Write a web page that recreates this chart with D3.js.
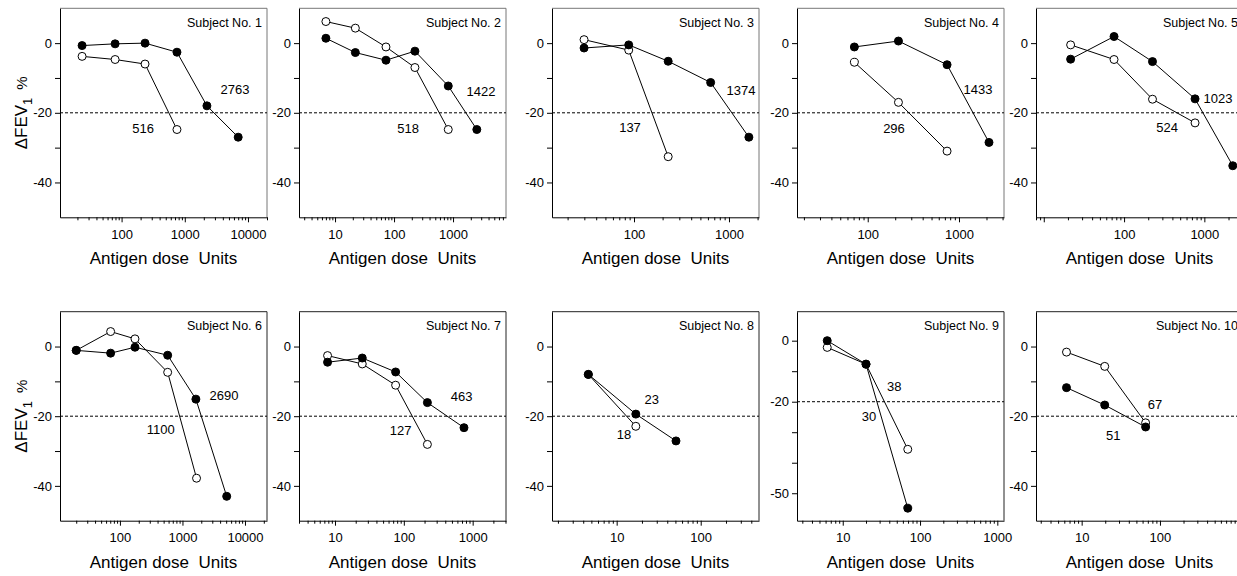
<!DOCTYPE html>
<html>
<head>
<meta charset="utf-8">
<script src="https://cdn.jsdelivr.net/npm/d3@7"></script>
<style>
  body { margin: 0; background: #fff; }
  svg { display: block; font-family: "Liberation Sans", Arial, Helvetica, sans-serif; }
</style>
</head>
<body>
<svg id="chart" width="1237" height="576"></svg>
<script>
// One panel per subject, dose on a log axis, change in FEV1 (%) on y
const subjects = [1, 2, 3, 4, 5, 6, 7, 8, 9, 10];

const xDomains = [[10.6, 20000], [2.45, 7900], [13.7, 2070], [16.8, 3110], [8, 3030],
                  [11, 22500], [3, 3050], [1.7, 494], [2.56, 1220], [2.61, 1150]];
const yDomains = [[-50, 10], [-50, 10], [-50, 10], [-50, 10], [-50, 10],
                  [-50, 10], [-50, 10], [-50, 10], [-59, 9.5], [-50, 10]];

const xTickLabels = [[100, 1000, 10000], [10, 100, 1000], [100, 1000], [100, 1000], [100, 1000],
                     [100, 1000, 10000], [10, 100, 1000], [10, 100], [10, 100, 1000], [10, 100]];
const yTicksStd = [0, -10, -20, -30, -40];
const yTicks9 = [0, -10, -20, -30, -40, -50];
const yLabelsStd = [0, -20, -40];
const yLabels9 = [0, -20, -50];

// filled circles
const filledDose = [
  [23.7, 79, 235, 752, 2240, 7000],
  [7.0, 22.1, 73, 226, 830, 2530],
  [29.8, 88, 229, 641, 1620],
  [71.4, 217, 740, 2130],
  [21.6, 75, 226, 766, 2260],
  [20, 71, 174, 580, 1640, 5100],
  [7.8, 24.9, 76, 220, 748],
  [4.6, 16.9, 50.8],
  [6.3, 20, 69.4],
  [6.4, 19.7, 65.6]];
const filledFev = [
  [-0.7, -0.2, 0, -2.6, -18, -27],
  [1.4, -2.7, -4.9, -2.3, -12.3, -24.8],
  [-1.4, -0.5, -5.2, -11.3, -27],
  [-1.1, 0.6, -6.2, -28.5],
  [-4.6, 1.9, -5.3, -16, -35.2],
  [-1.1, -1.9, -0.2, -2.5, -15.1, -43],
  [-4.5, -3.3, -7.3, -16.1, -23.3],
  [-8, -19.4, -27.1],
  [0, -7.7, -54.9],
  [-11.8, -16.8, -23.1]];

// open circles
const openDose = [
  [23.7, 79, 235, 752],
  [7.0, 22.1, 73, 226, 830],
  [29.8, 88, 229],
  [71.4, 217, 740],
  [21.6, 75, 226, 766],
  [20, 71, 174, 580, 1680],
  [7.8, 24.9, 76, 220],
  [4.6, 16.9],
  [6.3, 20, 69.4],
  [6.4, 19.7, 65.6]];
const openFev = [
  [-3.8, -4.7, -6, -24.8],
  [6.2, 4.3, -1.1, -7, -24.8],
  [1, -2, -32.6],
  [-5.5, -17, -31],
  [-0.5, -4.7, -16.1, -22.9],
  [-1.1, 4.3, 2.2, -7.4, -37.8],
  [-2.6, -5, -11.1, -28.1],
  [-8, -22.9],
  [-2.2, -7.7, -35.6],
  [-1.6, -5.7, -21.9]];

// PD20 numbers written in each panel, with their place in data units [dose, fev]
const pdUpper = ["2763", "1422", "1374", "1433", "1023", "2690", "463", "23", "38", "67"];
const pdUpperAt = [[6230, -13.2], [2985, -14.0], [1337, -13.7], [1615, -13.2], [1482, -15.8],
                   [4613, -13.9], [692, -14.4], [26.1, -15.1], [46.5, -15.1], [86.3, -16.5]];
const pdLower = ["516", "518", "137", "296", "524", "1100", "127", "18", "30", "51"];
const pdLowerAt = [[219, -24.4], [173, -24.4], [90.8, -24.1], [194, -24.4], [343, -24.1],
                   [448, -23.8], [90, -24.0], [12.2, -25.1], [21.9, -24.7], [25.3, -25.4]];

const panelLeft = [60, 299, 552, 797, 1036];
const rowTop = [8.3, 311.7];
const panelW = 207, panelH = 209;

const svg = d3.select("#chart");

subjects.forEach((s, i) => {
    const col = i % 5, row = Math.floor(i / 5);
    const x0 = panelLeft[col], y0 = rowTop[row];

    const x = d3.scaleLog().domain(xDomains[i]).range([x0, x0 + panelW]);
    const y = d3.scaleLinear().domain(yDomains[i]).range([y0 + panelH, y0]);

    const g = svg.append("g");

    // top and right edge of the box
    g.append("path")
        .attr("d", `M${x0},${y0}H${x0 + panelW}V${y0 + panelH}`)
        .attr("fill", "none")
        .attr("stroke", row === 0 ? "#777" : "#222");

    // X axis
    const xt = x.ticks().filter(v => v >= xDomains[i][0] && v <= xDomains[i][1]);
    const isPow = v => Math.abs(Math.log10(v) - Math.round(Math.log10(v))) < 1e-9;
    g.append("g")
        .attr("transform", `translate(0,${y0 + panelH})`)
        .call(d3.axisBottom(x).tickValues(xt).tickSize(3).tickSizeOuter(0).tickPadding(9)
            .tickFormat(v => xTickLabels[i].some(t => Math.abs(t - v) < 1e-6) ? String(Math.round(v)) : ""))
        .call(a => a.attr("font-size", 13).attr("font-family", null))
        .call(a => a.selectAll(".tick").filter(isPow).select("line").attr("y2", 5));

    // Y axis
    const yt = i === 8 ? yTicks9 : yTicksStd;
    const yl = i === 8 ? yLabels9 : yLabelsStd;
    g.append("g")
        .attr("transform", `translate(${x0},0)`)
        .call(d3.axisLeft(y).tickValues(yt).tickSize(5).tickSizeOuter(0).tickPadding(3)
            .tickFormat(v => yl.includes(v) ? String(v) : ""))
        .call(a => a.attr("font-size", 13).attr("font-family", null));

    // -20% reference line
    g.append("line")
        .attr("x1", x0).attr("x2", x0 + panelW)
        .attr("y1", y(-20)).attr("y2", y(-20))
        .attr("stroke", "#000")
        .attr("stroke-dasharray", "3,2");

    const line = d3.line().x(d => x(d[0])).y(d => y(d[1]));
    const openPts = openDose[i].map((d, k) => [d, openFev[i][k]]);
    const filledPts = filledDose[i].map((d, k) => [d, filledFev[i][k]]);

    g.append("path").attr("d", line(openPts)).attr("fill", "none").attr("stroke", "#000");
    g.append("path").attr("d", line(filledPts)).attr("fill", "none").attr("stroke", "#000");

    g.selectAll("circle.open")
        .data(openPts)
        .join("circle")
        .attr("class", "open")
        .attr("cx", d => x(d[0])).attr("cy", d => y(d[1]))
        .attr("r", 4)
        .attr("fill", "#fff").attr("stroke", "#000");

    g.selectAll("circle.filled")
        .data(filledPts)
        .join("circle")
        .attr("class", "filled")
        .attr("cx", d => x(d[0])).attr("cy", d => y(d[1]))
        .attr("r", 4)
        .attr("fill", "#000").attr("stroke", "#000");

    // PD20 values
    g.append("text")
        .attr("x", x(pdUpperAt[i][0])).attr("y", y(pdUpperAt[i][1]))
        .attr("text-anchor", "middle").attr("dy", "0.35em")
        .attr("font-size", 13)
        .text(pdUpper[i]);
    g.append("text")
        .attr("x", x(pdLowerAt[i][0])).attr("y", y(pdLowerAt[i][1]))
        .attr("text-anchor", "middle").attr("dy", "0.35em")
        .attr("font-size", 13)
        .text(pdLower[i]);

    // Panel title
    g.append("text")
        .attr("x", x0 + panelW - 5).attr("y", y0 + 18.5)
        .attr("text-anchor", "end")
        .attr("font-size", 12.5)
        .text("Subject No. " + s);

    // X title
    g.append("text")
        .attr("x", x0 + panelW / 2).attr("y", y0 + panelH + 47)
        .attr("text-anchor", "middle")
        .attr("font-size", 17)
        .text("Antigen dose\u00A0 Units");

    // Y title on the first column
    if (col === 0) {
        const t = g.append("text")
            .attr("transform", `translate(27,${y0 + panelH / 2}) rotate(-90)`)
            .attr("text-anchor", "middle")
            .attr("font-size", 17);
        t.append("tspan").text("\u0394FEV");
        t.append("tspan").attr("font-size", 13).attr("dy", 5).text("1");
        t.append("tspan").attr("font-size", 15).attr("dx", 8).attr("dy", -5).text("%");
    }
});
</script>
</body>
</html>
